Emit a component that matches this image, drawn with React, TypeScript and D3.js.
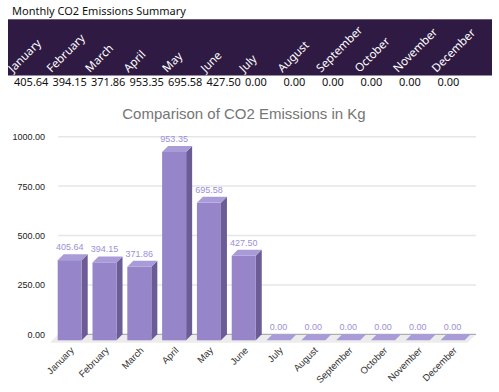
import React from "react";
import * as d3 from "d3";

const months = ["January","February","March","April","May","June","July","August","September","October","November","December"];
const values = [405.64, 394.15, 371.86, 953.35, 695.58, 427.5, 0, 0, 0, 0, 0, 0];
const yTicks = [0, 250, 500, 750, 1000];
const headerTitle = "Monthly CO2 Emissions Summary";
const chartTitle = "Comparison of CO2 Emissions in Kg";

const W = 499, H = 392;
const D = 6; // 3D depth
const FD = 8.5; // floor depth

export default function App() {
  const hx = d3.scaleBand<string>().domain(months).range([10, 472]);
  const x = d3.scaleBand<string>().domain(months).range([58.3, 476]).paddingInner(0.31).paddingOuter(0.155);
  const y = d3.scaleLinear().domain([0, 1000]).range([334.3, 136.7]);
  const bw = x.bandwidth();
  const y0 = y(0);
  const fmt = d3.format(".2f");
  const headerFont = "'Noto Sans', sans-serif";
  const chartFont = "'Liberation Sans', Arial, sans-serif";

  return (
    <svg width={W} height={H} style={{ position: "absolute", left: 0, top: 0, display: "block" }}>
      <rect x={0} y={0} width={W} height={H} fill="#fff" />
      <text x={12} y={15} fontFamily={headerFont} fontSize={11} fill="#111">{headerTitle}</text>
      <rect x={8} y={19.3} width={484} height={56.2} fill="#2f1a44" />
      {months.map((m) => (
        <text key={"hm" + m} transform={`translate(${(hx(m) as number) + 3},73) rotate(-45)`}
          fontFamily={headerFont} fontSize={11.5} fill="#fff">{m}</text>
      ))}
      {months.map((m, i) => (
        <text key={"hv" + m} x={(hx(m) as number) + 4} y={86}
          fontFamily={headerFont} fontSize={11} fill="#111">{fmt(values[i])}</text>
      ))}

      <text x={244} y={119} textAnchor="middle" fontFamily={chartFont} fontSize={15} fill="#757575">{chartTitle}</text>

      {/* floor */}
      <path d={`M58.3,${y0} L476,${y0} L${476 - FD},${y0 + FD} L${58.3 - FD},${y0 + FD} Z`} fill="#ececec" />
      {yTicks.map((t) => (
        <g key={"t" + t}>
          <line x1={58.3} x2={476} y1={y(t)} y2={y(t)} stroke={t === 0 ? "#9e9e9e" : "#e6e6e6"} strokeWidth={t === 0 ? 1 : 1.5} />
          <text x={45} y={y(t) + 3.5} textAnchor="end" fontFamily={chartFont} fontSize={9} fill="#222">{fmt(t)}</text>
        </g>
      ))}

      {months.map((m, i) => {
        const bx = x(m) as number;
        const by = y(values[i]);
        const fx = bx - D;
        const fyTop = by + D;
        const fyBot = y0 + D;
        return (
          <g key={"b" + m}>
            {values[i] > 0 && (
              <>
                <path d={`M${fx + bw},${fyTop} L${bx + bw},${by} L${bx + bw},${y0} L${fx + bw},${fyBot} Z`} fill="#6c5c96" />
                <rect x={fx} y={fyTop} width={bw} height={fyBot - fyTop} fill="#9685c9" />
              </>
            )}
            <path d={`M${fx},${fyTop} L${fx + bw},${fyTop} L${bx + bw},${by} L${bx},${by} Z`} fill="#a99ad8" />
            <text x={fx + bw / 2} y={by - 4} textAnchor="middle" fontFamily={chartFont} fontSize={9} fill="#9d8fd6">{fmt(values[i])}</text>
            <text transform={`translate(${bx + bw / 2 - 1},351) rotate(-45)`} textAnchor="end"
              fontFamily={chartFont} fontSize={9.5} fill="#333">{m}</text>
          </g>
        );
      })}
    </svg>
  );
}
